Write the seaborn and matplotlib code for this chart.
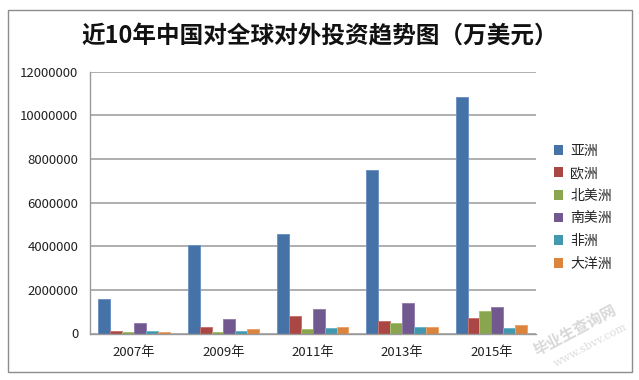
import matplotlib
matplotlib.use("Agg")
import matplotlib.pyplot as plt
import seaborn as sns
import pandas as pd
from matplotlib.patches import Rectangle

years = ["2007年", "2009年", "2011年", "2013年", "2015年"]
regions = ["亚洲", "欧洲", "北美洲", "南美洲", "非洲", "大洋洲"]
asia = [1580000, 4050000, 4550000, 7500000, 10830000]
europe = [100000, 300000, 780000, 560000, 690000]
n_america = [50000, 90000, 200000, 460000, 1030000]
s_america = [460000, 670000, 1120000, 1400000, 1230000]
africa = [100000, 100000, 260000, 300000, 260000]
oceania = [60000, 200000, 320000, 300000, 370000]
yticks = [0, 2000000, 4000000, 6000000, 8000000, 10000000, 12000000]
title = "近10年中国对全球对外投资趋势图（万美元）"

series = [asia, europe, n_america, s_america, africa, oceania]
rows = []
for r, vals in zip(regions, series):
    for y, v in zip(years, vals):
        rows.append({"year": y, "region": r, "value": v})
df = pd.DataFrame(rows)

colors = ["#4572A7", "#AA4643", "#89A54E", "#71588F", "#4198AF", "#DB843D"]
edges = ["#6E93C4", "#C77470", "#A8C274", "#9580AE", "#6DB5C9", "#EBA46C"]

sns.set_style("white")
plt.rcParams["font.family"] = ["Noto Sans CJK SC", "DejaVu Sans"]

fig = plt.figure(figsize=(6.39, 3.80), dpi=100)
W, H = 639, 380
ax = fig.add_axes([89.5 / W, 1 - 333.5 / H, (536 - 89.5) / W, (333.5 - 71.7) / H])

sns.barplot(data=df, x="year", y="value", hue="region", order=years,
            hue_order=regions, palette=colors, width=0.8, ax=ax,
            errorbar=None, legend=True, saturation=1)
for cont, ec in zip(ax.containers, edges):
    for p in cont.patches:
        p.set_edgecolor(ec)
        p.set_linewidth(0.7)

ax.set_ylim(0, 12000000)
ax.set_xlim(-0.5, 4.5)
ax.set_yticks(yticks)
ax.set_yticklabels([str(v) for v in yticks], fontsize=9.5, color="#222222")
ax.yaxis.grid(True, color="#A8A8A8", linewidth=1.3)
ax.set_axisbelow(True)
ax.set_xlabel("")
ax.set_ylabel("")
ax.tick_params(axis="x", which="major", length=0, labelsize=9.5, pad=9, labelcolor="#222222")
ax.set_xticks([i - 0.5 for i in range(6)], minor=True)
ax.tick_params(axis="x", which="minor", length=6, width=1, color="#999999", direction="out")
ax.tick_params(axis="y", which="major", length=6, width=1, color="#999999", direction="out", pad=2)
for s in ["top", "right"]:
    ax.spines[s].set_visible(False)
for s in ["left", "bottom"]:
    ax.spines[s].set_color("#999999")
    ax.spines[s].set_linewidth(1)

leg = ax.legend(loc="upper left", bbox_to_anchor=(541 / W, 1 - 131 / H),
                bbox_transform=fig.transFigure, frameon=False, fontsize=10,
                handlelength=0.7, handleheight=0.7, handletextpad=0.5,
                labelspacing=0.62)
for h in leg.legend_handles:
    h.set_linewidth(0)

fig.text(0.5, 1 - 36 / H, title, ha="center", va="center", fontsize=17,
         fontweight="bold", color="#111111")

fig.patches.append(Rectangle((8 / W, 1 - 371.7 / H), (631.7 - 8) / W, (371.7 - 9.5) / H,
                             transform=fig.transFigure, fill=False,
                             edgecolor="#8C8C8C", linewidth=1))

fig.text(575 / W, 1 - 330 / H, "毕业生查询网", rotation=28, ha="center", va="center",
         fontsize=11, fontweight="bold", color="#D8D8D8")
fig.text(590 / W, 1 - 345 / H, "www.sbvv.com", rotation=28, ha="center", va="center",
         fontsize=8, color="#DDDDDD", family="DejaVu Serif")

fig.savefig("out.png", dpi=100)
